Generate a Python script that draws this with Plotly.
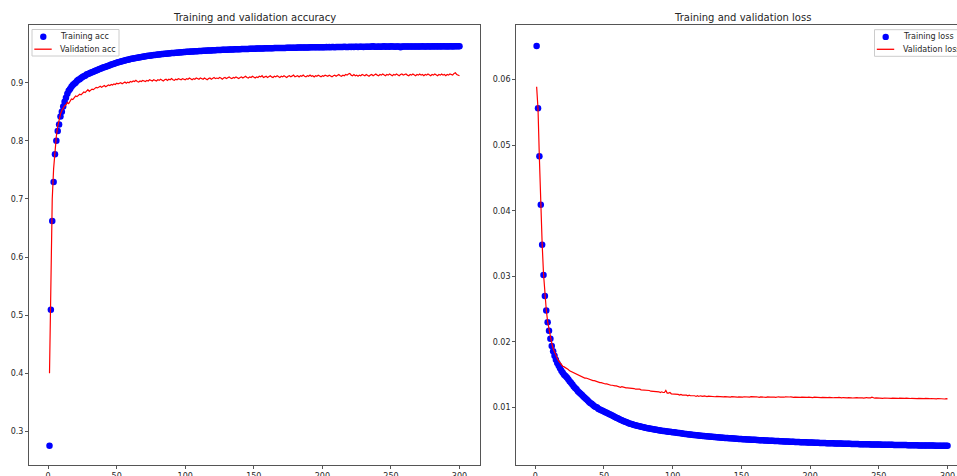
import plotly.graph_objects as go

epochs = list(range(1, 301))

train_acc = [
    0.275, 0.509, 0.662, 0.729, 0.777, 0.800, 0.817, 0.828, 0.842, 0.850,
    0.859, 0.867, 0.874, 0.881, 0.886, 0.889, 0.893, 0.896, 0.898, 0.900,
    0.903, 0.905, 0.906, 0.908, 0.910, 0.911, 0.912, 0.914, 0.915, 0.916,
    0.917, 0.918, 0.919, 0.920, 0.921, 0.922, 0.923, 0.924, 0.925, 0.926,
    0.9265, 0.9275, 0.9284, 0.9293, 0.9302, 0.9311, 0.9319, 0.9327, 0.9335, 0.9343,
    0.9350, 0.9357, 0.9364, 0.9371, 0.9377, 0.9383, 0.9389, 0.9395, 0.9400, 0.9406,
    0.9411, 0.9416, 0.9421, 0.9426, 0.9430, 0.9435, 0.9439, 0.9443, 0.9447, 0.9451,
    0.9455, 0.9458, 0.9462, 0.9465, 0.9468, 0.9472, 0.9475, 0.9478, 0.9481, 0.9484,
    0.9487, 0.9489, 0.9492, 0.9495, 0.9497, 0.9500, 0.9502, 0.9504, 0.9507, 0.9509,
    0.9511, 0.9513, 0.9515, 0.9517, 0.9519, 0.9521, 0.9523, 0.9525, 0.9527, 0.9529,
    0.9531, 0.9532, 0.9534, 0.9536, 0.9537, 0.9539, 0.9540, 0.9542, 0.9543, 0.9545,
    0.9546, 0.9547, 0.9549, 0.9550, 0.9551, 0.9553, 0.9554, 0.9555, 0.9556, 0.9557,
    0.9559, 0.9560, 0.9561, 0.9562, 0.9563, 0.9564, 0.9565, 0.9566, 0.9567, 0.9568,
    0.9569, 0.9570, 0.9571, 0.9572, 0.9573, 0.9574, 0.9575, 0.9576, 0.9576, 0.9577,
    0.9578, 0.9579, 0.9580, 0.9581, 0.9581, 0.9582, 0.9583, 0.9584, 0.9584, 0.9585,
    0.9586, 0.9587, 0.9587, 0.9588, 0.9589, 0.9589, 0.9590, 0.9591, 0.9591, 0.9592,
    0.9593, 0.9593, 0.9594, 0.9594, 0.9595, 0.9596, 0.9596, 0.9597, 0.9597, 0.9598,
    0.9598, 0.9599, 0.9599, 0.9600, 0.9600, 0.9601, 0.9601, 0.9602, 0.9602, 0.9603,
    0.9603, 0.9604, 0.9604, 0.9605, 0.9605, 0.9605, 0.9606, 0.9606, 0.9607, 0.9607,
    0.9608, 0.9608, 0.9608, 0.9609, 0.9609, 0.9610, 0.9610, 0.9610, 0.9611, 0.9611,
    0.9612, 0.9610, 0.9613, 0.9611, 0.9614, 0.9612, 0.9613, 0.9615, 0.9612, 0.9614,
    0.9615, 0.9613, 0.9616, 0.9614, 0.9615, 0.9617, 0.9614, 0.9616, 0.9615, 0.9617,
    0.9616, 0.9618, 0.9615, 0.9617, 0.9618, 0.9616, 0.9619, 0.9617, 0.9618, 0.9616,
    0.9619, 0.9617, 0.9620, 0.9618, 0.9619, 0.9621, 0.9628, 0.9619, 0.9620, 0.9618,
    0.9621, 0.9619, 0.9620, 0.9622, 0.9627, 0.9620, 0.9622, 0.9621, 0.9619, 0.9626,
    0.9621, 0.9623, 0.9620, 0.9622, 0.9621, 0.9623, 0.9612, 0.9622, 0.9624, 0.9621,
    0.9623, 0.9622, 0.9624, 0.9621, 0.9623, 0.9625, 0.9622, 0.9624, 0.9623, 0.9625,
    0.9622, 0.9624, 0.9626, 0.9623, 0.9625, 0.9624, 0.9626, 0.9623, 0.9625, 0.9626,
    0.9624, 0.9626, 0.9625, 0.9627, 0.9624, 0.9626, 0.9625, 0.9627, 0.9626, 0.9624,
    0.9627, 0.9625, 0.9626, 0.9628, 0.9625, 0.9627, 0.9626, 0.9628, 0.9626, 0.9627,
]

val_acc = [
    0.400, 0.600, 0.700, 0.752, 0.786, 0.808, 0.825, 0.837, 0.846, 0.852,
    0.857, 0.860, 0.862, 0.866, 0.864, 0.869, 0.872, 0.871, 0.875, 0.877,
    0.876, 0.879, 0.880, 0.879, 0.882, 0.884, 0.883, 0.886, 0.888, 0.885,
    0.887, 0.889, 0.888, 0.890, 0.892, 0.891, 0.893, 0.894, 0.892, 0.894,
    0.895, 0.893, 0.895, 0.896, 0.895, 0.897, 0.896, 0.898, 0.897, 0.899,
    0.898, 0.899, 0.900, 0.898, 0.900, 0.901, 0.899, 0.901, 0.900, 0.902,
    0.901, 0.903, 0.902, 0.904, 0.902, 0.901, 0.903, 0.902, 0.904, 0.903,
    0.902, 0.904, 0.903, 0.905, 0.904, 0.903, 0.905, 0.904, 0.903, 0.905,
    0.904, 0.906, 0.905, 0.903, 0.905, 0.906, 0.904, 0.906, 0.905, 0.907,
    0.905, 0.904, 0.906, 0.905, 0.907, 0.906, 0.905, 0.907, 0.906, 0.905,
    0.907, 0.906, 0.908, 0.906, 0.905, 0.907, 0.906, 0.908, 0.907, 0.906,
    0.908, 0.907, 0.906, 0.908, 0.907, 0.905, 0.907, 0.908, 0.906, 0.907,
    0.909, 0.907, 0.908, 0.907, 0.909, 0.908, 0.906, 0.908, 0.909, 0.907,
    0.908, 0.910, 0.908, 0.907, 0.909, 0.908, 0.910, 0.909, 0.907, 0.909,
    0.910, 0.908, 0.909, 0.911, 0.909, 0.908, 0.910, 0.909, 0.911, 0.910,
    0.908, 0.910, 0.909, 0.911, 0.910, 0.912, 0.909, 0.910, 0.911, 0.909,
    0.910, 0.912, 0.910, 0.909, 0.911, 0.910, 0.912, 0.911, 0.909, 0.911,
    0.910, 0.912, 0.911, 0.909, 0.911, 0.912, 0.910, 0.911, 0.913, 0.910,
    0.911, 0.912, 0.910, 0.912, 0.911, 0.913, 0.911, 0.910, 0.912, 0.911,
    0.913, 0.911, 0.912, 0.910, 0.912, 0.911, 0.913, 0.912, 0.910, 0.912,
    0.911, 0.913, 0.912, 0.911, 0.913, 0.912, 0.910, 0.912, 0.913, 0.911,
    0.912, 0.914, 0.912, 0.911, 0.913, 0.912, 0.914, 0.913, 0.915, 0.916,
    0.913, 0.912, 0.914, 0.912, 0.913, 0.911, 0.913, 0.912, 0.914, 0.913,
    0.912, 0.914, 0.913, 0.911, 0.913, 0.914, 0.912, 0.913, 0.915, 0.913,
    0.912, 0.914, 0.913, 0.915, 0.913, 0.912, 0.914, 0.913, 0.915, 0.914,
    0.912, 0.914, 0.913, 0.915, 0.914, 0.912, 0.914, 0.915, 0.913, 0.914,
    0.915, 0.913, 0.912, 0.914, 0.913, 0.915, 0.914, 0.912, 0.914, 0.913,
    0.915, 0.913, 0.914, 0.912, 0.914, 0.913, 0.915, 0.914, 0.912, 0.914,
    0.913, 0.915, 0.914, 0.912, 0.914, 0.913, 0.915, 0.913, 0.914, 0.912,
    0.914, 0.913, 0.915, 0.914, 0.913, 0.916, 0.917, 0.914, 0.913, 0.912,
]

train_loss = [
    0.0651, 0.0556, 0.0483, 0.0409, 0.0348, 0.0302, 0.0270, 0.0248, 0.0230, 0.0217,
    0.0205, 0.0194, 0.0186, 0.0179, 0.0173, 0.0168, 0.0164, 0.0160, 0.0156, 0.0153,
    0.0150, 0.0148, 0.0146, 0.0143, 0.0140, 0.0138, 0.0135, 0.0132, 0.0130, 0.0128,
    0.0125, 0.0123, 0.0121, 0.0119, 0.0117, 0.0115, 0.0113, 0.0111, 0.0109, 0.0107,
    0.0106, 0.0104, 0.0102, 0.0101, 0.0100, 0.0098, 0.0097, 0.0096, 0.0095, 0.0094,
    0.0093, 0.0092, 0.0091, 0.0090, 0.0089, 0.00880, 0.00866, 0.00856, 0.00846, 0.00836,
    0.00826, 0.00816, 0.00806, 0.00797, 0.00788, 0.00779, 0.00771, 0.00763, 0.00755, 0.00748,
    0.00742, 0.00736, 0.00730, 0.00724, 0.00719, 0.00714, 0.00709, 0.00704, 0.00699, 0.00694,
    0.00689, 0.00685, 0.00681, 0.00677, 0.00673, 0.00669, 0.00665, 0.00661, 0.00658, 0.00654,
    0.00651, 0.00648, 0.00645, 0.00642, 0.00639, 0.00636, 0.00633, 0.00630, 0.00627, 0.00625,
    0.00623, 0.00620, 0.00617, 0.00614, 0.00611, 0.00608, 0.00605, 0.00602, 0.00599, 0.00596,
    0.00594, 0.00591, 0.00589, 0.00586, 0.00584, 0.00581, 0.00579, 0.00577, 0.00574, 0.00572,
    0.00570, 0.00568, 0.00566, 0.00564, 0.00562, 0.00560, 0.00558, 0.00556, 0.00554, 0.00552,
    0.00550, 0.00549, 0.00547, 0.00545, 0.00543, 0.00542, 0.00540, 0.00538, 0.00537, 0.00535,
    0.00534, 0.00532, 0.00531, 0.00529, 0.00528, 0.00526, 0.00525, 0.00523, 0.00522, 0.00521,
    0.00519, 0.00518, 0.00517, 0.00515, 0.00514, 0.00513, 0.00511, 0.00510, 0.00509, 0.00508,
    0.00507, 0.00505, 0.00504, 0.00503, 0.00502, 0.00501, 0.00500, 0.00499, 0.00497, 0.00496,
    0.00495, 0.00494, 0.00493, 0.00492, 0.00491, 0.00490, 0.00489, 0.00488, 0.00487, 0.00486,
    0.00485, 0.00484, 0.00483, 0.00482, 0.00481, 0.00480, 0.00479, 0.00478, 0.00477, 0.00476,
    0.00475, 0.00474, 0.00473, 0.00472, 0.00471, 0.00471, 0.00470, 0.00469, 0.00468, 0.00467,
    0.00466, 0.00466, 0.00465, 0.00464, 0.00463, 0.00463, 0.00462, 0.00461, 0.00460, 0.00460,
    0.00459, 0.00458, 0.00457, 0.00457, 0.00456, 0.00455, 0.00455, 0.00454, 0.00453, 0.00453,
    0.00452, 0.00451, 0.00451, 0.00450, 0.00449, 0.00449, 0.00448, 0.00447, 0.00447, 0.00446,
    0.00446, 0.00445, 0.00445, 0.00444, 0.00444, 0.00443, 0.00443, 0.00442, 0.00442, 0.00441,
    0.00441, 0.00440, 0.00440, 0.00439, 0.00439, 0.00438, 0.00438, 0.00437, 0.00437, 0.00436,
    0.00436, 0.00435, 0.00435, 0.00434, 0.00434, 0.00433, 0.00433, 0.00433, 0.00432, 0.00432,
    0.00431, 0.00431, 0.00430, 0.00430, 0.00430, 0.00429, 0.00429, 0.00428, 0.00428, 0.00428,
    0.00427, 0.00427, 0.00427, 0.00426, 0.00426, 0.00425, 0.00425, 0.00425, 0.00424, 0.00424,
    0.00424, 0.00423, 0.00423, 0.00423, 0.00422, 0.00422, 0.00422, 0.00421, 0.00421, 0.00421,
    0.00420, 0.00420, 0.00420, 0.00419, 0.00419, 0.00419, 0.00419, 0.00418, 0.00418, 0.00418,
]

val_loss = [
    0.0589, 0.0555, 0.0480, 0.0406, 0.0350, 0.0304, 0.0272, 0.0249, 0.0231, 0.0218,
    0.0207, 0.0198, 0.0190, 0.0184, 0.0179, 0.0175, 0.0171, 0.0168, 0.0165, 0.0163,
    0.0162, 0.0161, 0.0159, 0.0158, 0.0156, 0.0155, 0.0154, 0.0152, 0.0151, 0.0150,
    0.0149, 0.0148, 0.0147, 0.0147, 0.0146, 0.0145, 0.0145, 0.0144, 0.0143, 0.0143,
    0.0142, 0.0141, 0.0141, 0.0140, 0.0140, 0.0139, 0.0138, 0.0138, 0.0137, 0.0137,
    0.0136, 0.0136, 0.0135, 0.0135, 0.0134, 0.0134, 0.0133, 0.0133, 0.0133, 0.0132,
    0.0132, 0.0131, 0.0132, 0.0131, 0.0131, 0.0130, 0.0130, 0.0130, 0.0129, 0.0130,
    0.0129, 0.0129, 0.0128, 0.0128, 0.0129, 0.0128, 0.0127, 0.0127, 0.0127, 0.0126,
    0.0126, 0.0127, 0.0126, 0.0125, 0.0125, 0.0125, 0.0124, 0.0125, 0.0124, 0.0124,
    0.0123, 0.0124, 0.0123, 0.0123, 0.0126, 0.0122, 0.0122, 0.0123, 0.0121, 0.0121,
    0.0121, 0.0120, 0.0121, 0.0120, 0.0119, 0.0120, 0.0119, 0.0119, 0.0120, 0.0119,
    0.0118, 0.0119, 0.0118, 0.0118, 0.0119, 0.0118, 0.0117, 0.0118, 0.0117, 0.0118,
    0.01175, 0.01170, 0.01178, 0.01172, 0.01168, 0.01174, 0.01170, 0.01166, 0.01172, 0.01169,
    0.01165, 0.01171, 0.01167, 0.01163, 0.01169, 0.01166, 0.01162, 0.01168, 0.01164, 0.01167,
    0.01163, 0.01160, 0.01166, 0.01162, 0.01165, 0.01161, 0.01158, 0.01164, 0.01160, 0.01163,
    0.01159, 0.01165, 0.01161, 0.01158, 0.01163, 0.01160, 0.01166, 0.01161, 0.01158, 0.01162,
    0.01165, 0.01160, 0.01157, 0.01163, 0.01159, 0.01164, 0.01160, 0.01157, 0.01162, 0.01166,
    0.01160, 0.01158, 0.01163, 0.01159, 0.01156, 0.01162, 0.01165, 0.01159, 0.01157, 0.01161,
    0.01158, 0.01163, 0.01159, 0.01156, 0.01161, 0.01164, 0.01158, 0.01155, 0.01160, 0.01157,
    0.01162, 0.01158, 0.01155, 0.01160, 0.01157, 0.01153, 0.01158, 0.01155, 0.01159, 0.01154,
    0.01157, 0.01153, 0.01158, 0.01155, 0.01152, 0.01157, 0.01154, 0.01151, 0.01156, 0.01153,
    0.01150, 0.01155, 0.01152, 0.01156, 0.01151, 0.01154, 0.01150, 0.01153, 0.01149, 0.01152,
    0.01155, 0.01150, 0.01148, 0.01153, 0.01149, 0.01152, 0.01147, 0.01151, 0.01154, 0.01149,
    0.01146, 0.01151, 0.01148, 0.01152, 0.01147, 0.01150, 0.01146, 0.01149, 0.01145, 0.01150,
    0.01153, 0.01147, 0.01144, 0.01149, 0.01158, 0.01146, 0.01143, 0.01148, 0.01145, 0.01142,
    0.01147, 0.01144, 0.01141, 0.01146, 0.01143, 0.01148, 0.01142, 0.01145, 0.01140, 0.01144,
    0.01141, 0.01146, 0.01142, 0.01139, 0.01144, 0.01141, 0.01138, 0.01143, 0.01140, 0.01144,
    0.01139, 0.01142, 0.01138, 0.01141, 0.01137, 0.01142, 0.01139, 0.01136, 0.01141, 0.01138,
    0.01135, 0.01140, 0.01137, 0.01141, 0.01136, 0.01139, 0.01135, 0.01138, 0.01134, 0.01139,
    0.01136, 0.01133, 0.01138, 0.01135, 0.01132, 0.01137, 0.01134, 0.01131, 0.01136, 0.01133,
]

series_names = ["Training acc", "Validation acc", "Training loss", "Validation loss"]
titles = ["Training and validation accuracy", "Training and validation loss"]

FONT = "DejaVu Sans"
TEXT = "#262626"
BLUE = "#0000ff"
RED = "#ff0000"

# The page margin is removed (see post_script), so the figure fills the window.
W, H = 957, 476


def px(X):
    return X / W


def py(Y):
    return 1 - Y / H


fig = go.Figure()

fig.add_trace(go.Scatter(
    x=epochs, y=train_acc, mode="markers", name=series_names[0],
    marker=dict(color=BLUE, size=6.5, line=dict(width=0)),
    xaxis="x", yaxis="y",
))
fig.add_trace(go.Scatter(
    x=epochs, y=val_acc, mode="lines", name=series_names[1],
    line=dict(color=RED, width=1.2),
    xaxis="x", yaxis="y",
))
fig.add_trace(go.Scatter(
    x=epochs, y=train_loss, mode="markers", name=series_names[2],
    marker=dict(color=BLUE, size=6.5, line=dict(width=0)),
    xaxis="x2", yaxis="y2",
))
fig.add_trace(go.Scatter(
    x=epochs, y=val_loss, mode="lines", name=series_names[3],
    line=dict(color=RED, width=1.2),
    xaxis="x2", yaxis="y2",
))

axis_common = dict(
    showgrid=False, zeroline=False, showline=True, linecolor="#555555",
    linewidth=1, mirror=True, ticks="outside", ticklen=3, tickwidth=1,
    tickcolor="#555555", tickfont=dict(family=FONT, size=8, color=TEXT),
)

ydom = [py(465), py(25)]
xticks = [0, 50, 100, 150, 200, 250, 300]

shapes = []
annotations = []


def add_legend(box_left, box_top, box_right, box_bottom, dot_x, row1_y, row2_y,
               line_x0, line_x1, text_x, label1, label2):
    shapes.append(dict(type="rect", xref="paper", yref="paper",
                       x0=px(box_left), x1=px(box_right), y0=py(box_bottom), y1=py(box_top),
                       line=dict(color="#cccccc", width=1),
                       fillcolor="rgba(255,255,255,0.8)", layer="above"))
    shapes.append(dict(type="circle", xref="paper", yref="paper",
                       xsizemode="pixel", ysizemode="pixel",
                       xanchor=px(dot_x), yanchor=py(row1_y),
                       x0=-3.2, x1=3.2, y0=-3.2, y1=3.2,
                       line=dict(width=0), fillcolor=BLUE, layer="above"))
    shapes.append(dict(type="line", xref="paper", yref="paper",
                       x0=px(line_x0), x1=px(line_x1), y0=py(row2_y), y1=py(row2_y),
                       line=dict(color=RED, width=1.3), layer="above"))
    for lab, yy in ((label1, row1_y), (label2, row2_y)):
        annotations.append(dict(text=lab, x=px(text_x), y=py(yy), xref="paper", yref="paper",
                                showarrow=False, xanchor="left", yanchor="middle",
                                font=dict(family=FONT, size=8, color=TEXT)))


add_legend(32, 29.5, 119, 56, 43.3, 36.7, 49.2, 34.3, 51.7, 58.3,
           series_names[0], series_names[1])
add_legend(874.5, 29.7, 966, 56.3, 885.7, 36.9, 49.3, 876.8, 894.2, 900.7,
           series_names[2], series_names[3])

for t, cx in zip(titles, (254.5, 742)):
    annotations.append(dict(text=t, x=px(cx), y=py(17.5), xref="paper", yref="paper",
                            showarrow=False, xanchor="center", yanchor="middle",
                            font=dict(family=FONT, size=10, color=TEXT)))

fig.update_layout(
    width=W, height=H,
    margin=dict(l=0, r=0, t=0, b=0, autoexpand=False),
    paper_bgcolor="white", plot_bgcolor="white",
    showlegend=False,
    xaxis=dict(domain=[px(29), px(480)], range=[-13.95, 314.95],
               tickmode="array", tickvals=xticks, anchor="y", **axis_common),
    yaxis=dict(domain=ydom, range=[0.242, 0.9993],
               tickmode="array", tickvals=[0.3, 0.4, 0.5, 0.6, 0.7, 0.8, 0.9],
               ticktext=["0.3", "0.4", "0.5", "0.6", "0.7", "0.8", "0.9"],
               anchor="x", **axis_common),
    xaxis2=dict(domain=[px(516.1), 1.0], range=[-13.95, 306.9],
                tickmode="array", tickvals=xticks, anchor="y2", **axis_common),
    yaxis2=dict(domain=ydom, range=[0.00125, 0.0683],
                tickmode="array", tickvals=[0.01, 0.02, 0.03, 0.04, 0.05, 0.06],
                ticktext=["0.01", "0.02", "0.03", "0.04", "0.05", "0.06"],
                anchor="x2", **axis_common),
    shapes=shapes,
    annotations=annotations,
)

fig.write_html(
    "out.html",
    config={"displayModeBar": False},
    post_script=(
        "document.documentElement.style.overflow='hidden';"
        "document.body.style.margin='0';"
        "document.body.style.overflow='hidden';"
    ),
)
